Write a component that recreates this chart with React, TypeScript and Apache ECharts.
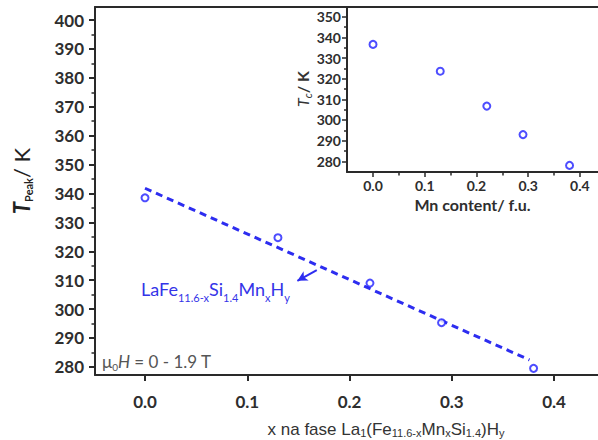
import React, { useEffect, useRef } from 'react';
import * as echarts from 'echarts';

// Main plot data (x = Mn content, T_peak in K)
const mainX = [0.0, 0.13, 0.22, 0.29, 0.38];
const mainY = [338.5, 324.7, 309.0, 295.3, 279.5];
// dashed linear fit end points
const fitX = [0.0, 0.376];
const fitY = [341.8, 282.4];
// annotation arrow (data coordinates)
const arrowFrom = [0.168, 313.5];
const arrowTo = [0.149, 309.8];

// Inset data (Mn content, Tc in K)
const insetX = [0.0, 0.13, 0.22, 0.29, 0.38];
const insetY = [336.6, 323.6, 306.7, 292.9, 278.0];

// ticks
const mainYTicks = [280, 290, 300, 310, 320, 330, 340, 350, 360, 370, 380, 390, 400];
const mainYMinor = [285, 295, 305, 315, 325, 335, 345, 355, 365, 375, 385, 395];
const mainXTicks = [0.0, 0.1, 0.2, 0.3, 0.4];
const insetYTicks = [280, 290, 300, 310, 320, 330, 340, 350];
const insetYMinor = [285, 295, 305, 315, 325, 335, 345];
const insetXTicks = [0.0, 0.1, 0.2, 0.3, 0.4];
const insetXMinor = [0.05, 0.15, 0.25, 0.35];

const BLUE = '#2020ff';
const AXIS = '#2a2a2a';
const LABEL = '#2e2e2e';
const FONT = 'Lato';

export default function App() {
  const ref = useRef<HTMLDivElement>(null);
  useEffect(() => {
    if (!ref.current) return;
    const chart = echarts.init(ref.current, undefined, { renderer: 'svg' });
    const zip = (a: number[], b: number[]) => a.map((v, i) => [v, b[i]]);
    const fmt = (v: number) => v.toFixed(1);
    const option: any = {
      animation: false,
      backgroundColor: '#ffffff',
      grid: [
        { left: 95, top: 7, right: 0, bottom: 65, show: false },
        { left: 347, top: 7, right: 0, bottom: 268, show: true, backgroundColor: '#ffffff', borderWidth: 0 },
      ],
      xAxis: [
        {
          type: 'value', gridIndex: 0, min: -0.0489, max: 0.443, position: 'bottom',
          axisLine: { show: true, onZero: false, lineStyle: { color: AXIS, width: 2 } },
          axisTick: { show: true, inside: false, length: 6, customValues: mainXTicks, lineStyle: { color: AXIS, width: 2 } },
          axisLabel: { show: true, customValues: mainXTicks, formatter: fmt, margin: 18, color: LABEL, fontFamily: FONT, fontWeight: 'bold', fontSize: 17 },
          splitLine: { show: false },
        },
        {
          type: 'value', gridIndex: 0, min: -0.0489, max: 0.443, position: 'top',
          axisLine: { show: true, onZero: false, lineStyle: { color: AXIS, width: 2 } },
          axisTick: { show: false }, axisLabel: { show: false }, splitLine: { show: false },
        },
        {
          type: 'value', gridIndex: 1, min: -0.0503, max: 0.435, position: 'bottom',
          name: 'Mn content/ f.u.', nameLocation: 'middle', nameGap: 24,
          nameTextStyle: { color: LABEL, fontFamily: FONT, fontWeight: 'bold', fontSize: 16 },
          axisLine: { show: true, onZero: false, lineStyle: { color: AXIS, width: 2 } },
          axisTick: { show: true, inside: false, length: 5, customValues: insetXTicks, lineStyle: { color: AXIS, width: 1.5 } },
          axisLabel: { show: true, customValues: insetXTicks, formatter: fmt, margin: 6, color: LABEL, fontFamily: FONT, fontWeight: 'bold', fontSize: 14 },
          splitLine: { show: false },
        },
        {
          type: 'value', gridIndex: 1, min: -0.0503, max: 0.435, position: 'bottom',
          axisLine: { show: false, onZero: false },
          axisTick: { show: true, inside: false, length: 3.5, customValues: insetXMinor, lineStyle: { color: AXIS, width: 1.5 } },
          axisLabel: { show: false }, splitLine: { show: false },
        },
      ],
      yAxis: [
        {
          type: 'value', gridIndex: 0, min: 277.2, max: 404.5, position: 'left',
          axisLine: { show: true, onZero: false, lineStyle: { color: AXIS, width: 2 } },
          axisTick: { show: true, inside: false, length: 6, customValues: mainYTicks, lineStyle: { color: AXIS, width: 2 } },
          axisLabel: { show: true, customValues: mainYTicks, margin: 11, color: LABEL, fontFamily: FONT, fontWeight: 'bold', fontSize: 17 },
          splitLine: { show: false },
        },
        {
          type: 'value', gridIndex: 0, min: 277.2, max: 404.5, position: 'left',
          axisLine: { show: false, onZero: false },
          axisTick: { show: true, inside: false, length: 3.5, customValues: mainYMinor, lineStyle: { color: AXIS, width: 1.5 } },
          axisLabel: { show: false }, splitLine: { show: false },
        },
        {
          type: 'value', gridIndex: 1, min: 274.8, max: 354.7, position: 'left',
          axisLine: { show: true, onZero: false, lineStyle: { color: AXIS, width: 2 } },
          axisTick: { show: true, inside: false, length: 5, customValues: insetYTicks, lineStyle: { color: AXIS, width: 1.5 } },
          axisLabel: { show: true, customValues: insetYTicks, margin: 6, color: LABEL, fontFamily: FONT, fontWeight: 'bold', fontSize: 14 },
          splitLine: { show: false },
        },
        {
          type: 'value', gridIndex: 1, min: 274.8, max: 354.7, position: 'left',
          axisLine: { show: false, onZero: false },
          axisTick: { show: true, inside: false, length: 3, customValues: insetYMinor, lineStyle: { color: AXIS, width: 1.5 } },
          axisLabel: { show: false }, splitLine: { show: false },
        },
      ],
      series: [
        {
          type: 'line', xAxisIndex: 0, yAxisIndex: 0, data: zip(fitX, fitY),
          showSymbol: false, symbol: 'none',
          lineStyle: { color: '#2d2df0', width: 3, type: [7, 5] },
          markLine: {
            silent: true, animation: false,
            symbol: ['none', 'arrow'], symbolSize: [8, 10],
            label: { show: false },
            lineStyle: { color: '#2d2df0', width: 2, type: 'solid' },
            data: [[{ coord: arrowFrom }, { coord: arrowTo }]],
          },
          z: 2,
        },
        {
          type: 'scatter', xAxisIndex: 0, yAxisIndex: 0, data: zip(mainX, mainY),
          symbol: 'emptyCircle', symbolSize: 7,
          itemStyle: { color: BLUE, borderColor: BLUE, borderWidth: 1.8 },
          z: 3,
        },
        {
          type: 'scatter', xAxisIndex: 2, yAxisIndex: 2, data: zip(insetX, insetY),
          symbol: 'emptyCircle', symbolSize: 7,
          itemStyle: { color: BLUE, borderColor: BLUE, borderWidth: 2.5 },
          z: 3,
        },
      ],
      graphic: [
        {
          type: 'text', x: 21, y: 181, rotation: Math.PI / 2,
          style: {
            text: '{t|T}{s|Peak}{n|/ K}',
            align: 'center', verticalAlign: 'middle',
            rich: {
              t: { fontFamily: FONT, fontSize: 22, fontWeight: 'bold', fontStyle: 'italic', fill: '#222' },
              s: { fontFamily: FONT, fontSize: 11, fontWeight: 'bold', fill: '#222', padding: [14, 0, 0, 0] },
              n: { fontFamily: FONT, fontSize: 22, fill: '#222' },
            },
          },
        },
        {
          type: 'text', x: 302, y: 89, rotation: Math.PI / 2,
          style: {
            text: '{t|T}{s|c}{n|/ K}',
            align: 'center', verticalAlign: 'middle',
            rich: {
              t: { fontFamily: FONT, fontSize: 16, fontStyle: 'italic', fill: '#333' },
              s: { fontFamily: FONT, fontSize: 11, fontStyle: 'italic', fill: '#333', padding: [10, 0, 0, 0] },
              n: { fontFamily: FONT, fontSize: 16, fontWeight: 'bold', fill: '#333' },
            },
          },
        },
        {
          type: 'text', x: 141, y: 289,
          style: {
            text: '{a|LaFe}{s|11.6-x}{a|Si}{s|1.4}{a|Mn}{s|x}{a|H}{s|y}',
            align: 'left', verticalAlign: 'middle',
            rich: {
              a: { fontFamily: FONT, fontSize: 18, fill: '#3434e8' },
              s: { fontFamily: FONT, fontSize: 11, fill: '#3434e8', padding: [16, 0, 0, 0] },
            },
          },
        },
        {
          type: 'text', x: 102, y: 361,
          style: {
            text: '{m|μ}{s|0}{i|H}{m| = 0 - 1.9 T}',
            align: 'left', verticalAlign: 'middle',
            rich: {
              m: { fontFamily: FONT, fontSize: 17, fill: '#555' },
              i: { fontFamily: FONT, fontSize: 17, fontStyle: 'italic', fill: '#555' },
              s: { fontFamily: FONT, fontSize: 10, fill: '#555', padding: [12, 0, 0, 0] },
            },
          },
        },
        {
          type: 'text', x: 386, y: 429,
          style: {
            text: '{a|x na fase La}{s|1}{a|(Fe}{s|11.6-x}{a|Mn}{s|x}{a|Si}{s|1.4}{a|)H}{s|y}',
            align: 'center', verticalAlign: 'middle',
            rich: {
              a: { fontFamily: 'Liberation Sans', fontSize: 17, fill: '#333' },
              s: { fontFamily: 'Liberation Sans', fontSize: 11, fill: '#333', padding: [8, 0, 0, 0] },
            },
          },
        },
      ],
    };
    chart.setOption(option);
    return () => chart.dispose();
  }, []);
  return (
    <div
      ref={ref}
      style={{ position: 'fixed', left: 0, top: 0, width: 598, height: 440, background: '#fff' }}
    />
  );
}
